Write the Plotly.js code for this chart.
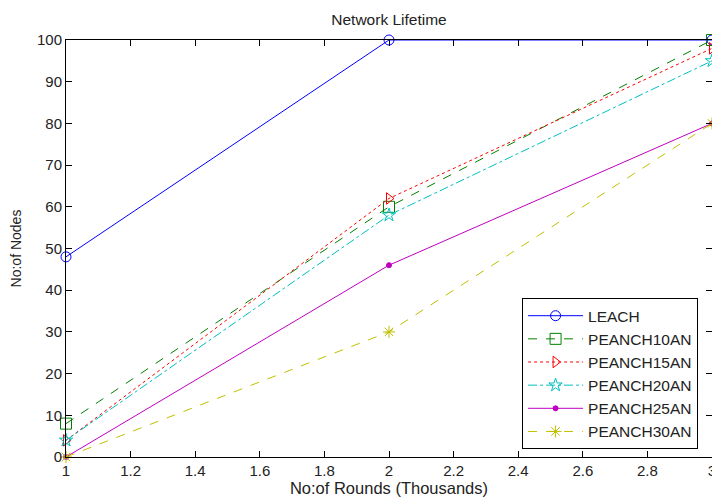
<!DOCTYPE html>
<html><head><meta charset="utf-8">
<script src="https://cdn.plot.ly/plotly-3.0.1.min.js"></script>
<style>html,body{margin:0;padding:0;background:#fff;}#chart{width:712px;height:500px;}</style>
</head><body><div id="chart"></div>
<script>
const rounds = [1, 2, 3];
const leach = [48, 100, 100];
const peanch10 = [8, 60, 100];
const peanch15 = [4, 62, 98];
const peanch20 = [4, 58, 95];
const peanch25 = [0, 46, 80];
const peanch30 = [0, 30, 80];
const seriesNames = ['LEACH','PEANCH10AN','PEANCH15AN','PEANCH20AN','PEANCH25AN','PEANCH30AN'];
const xTicks = [1,1.2,1.4,1.6,1.8,2,2.2,2.4,2.6,2.8,3];
const yTicks = [0,10,20,30,40,50,60,70,80,90,100];

const styles = [
  {color:'#0000ff', dash:'solid', symbol:'circle-open', size:10},
  {color:'#008000', dash:'dash', symbol:'square-open', size:11},
  {color:'#ff0000', dash:'dot', symbol:'triangle-right-open', size:10},
  {color:'#00bfbf', dash:'dashdot', symbol:'star-open', size:10},
  {color:'#bf00bf', dash:'solid', symbol:'circle', size:5},
  {color:'#bfbf00', dash:'dash', symbol:'asterisk-open', size:10}
];
const ys = [leach, peanch10, peanch15, peanch20, peanch25, peanch30];
const traces = ys.map((y,i)=>({
  x: rounds, y: y, name: seriesNames[i], type:'scatter', mode:'lines+markers',
  cliponaxis:false,
  line:{color:styles[i].color, dash:styles[i].dash, width:1},
  marker:{symbol:styles[i].symbol, size:styles[i].size, color:styles[i].color, line:{color:styles[i].color, width:1}}
}));

const fam = 'Liberation Sans, Arial, sans-serif';
const txt = '#222';
const layout = {
  width:712, height:500,
  margin:{l:66, r:0, t:40, b:43},
  paper_bgcolor:'#fff', plot_bgcolor:'#fff',
  font:{family:fam, size:15, color:txt},
  title:{text:'Network Lifetime', font:{family:fam, size:15.5, color:txt}, x:0.5, xref:'paper', y:0.96, yref:'container', yanchor:'middle'},
  xaxis:{range:[1,3], tickvals:xTicks, ticktext:xTicks.map(String), ticks:'inside', ticklen:6, tickcolor:'#000',
    ticklabeloverflow:'allow',
    tickfont:{family:fam, size:15, color:txt},
    showline:true, linecolor:'#000', linewidth:1, mirror:'ticks', showgrid:false, zeroline:false,
    title:{text:'No:of Rounds (Thousands)', font:{family:fam, size:16.5, color:txt}, standoff:2}},
  yaxis:{range:[0,100], tickvals:yTicks, ticktext:yTicks.map(String), ticks:'inside', ticklen:6, tickcolor:'#000',
    tickfont:{family:fam, size:15, color:txt},
    showline:true, linecolor:'#000', linewidth:1, mirror:'ticks', showgrid:false, zeroline:false,
    title:{text:'No:of Nodes', font:{family:fam, size:14, color:txt}, standoff:12}},
  legend:{x:0.706, y:0.381, xanchor:'left', yanchor:'top', bgcolor:'#fff', bordercolor:'#000', borderwidth:1,
    itemwidth:55,
    font:{family:fam, size:15.5, color:txt}},
  showlegend:true
};
Plotly.newPlot('chart', traces, layout, {staticPlot:true});
</script></body></html>
